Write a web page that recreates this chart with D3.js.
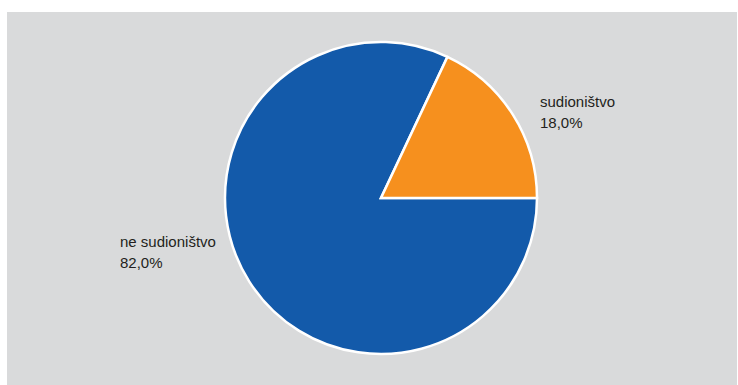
<!DOCTYPE html>
<html><head><meta charset="utf-8">
<script src="https://cdn.jsdelivr.net/npm/d3@7"></script>
<style>html,body{margin:0;padding:0;background:#fff;}</style>
</head><body>
<svg id="c" width="738" height="385"></svg>
<script>
const categories = ["ne sudioništvo", "sudioništvo"];
const values = [82.0, 18.0];
const valueLabels = ["82,0%", "18,0%"];
const colors = ["#135aaa", "#f6901e"];

const svg = d3.select("#c");
svg.append("rect").attr("x", 7).attr("y", 12).attr("width", 730).attr("height", 373).attr("fill", "#d9dadb");

const cx = 381, cy = 198, r = 156;
const data = categories.map((c, i) => ({cat: c, value: values[i], label: valueLabels[i], color: colors[i]}));
const pie = d3.pie().sort(null).value(d => d.value).startAngle(Math.PI / 2).endAngle(Math.PI / 2 + 2 * Math.PI);
const arc = d3.arc().innerRadius(0).outerRadius(r);
const g = svg.append("g").attr("transform", `translate(${cx},${cy})`);
g.selectAll("path").data(pie(data)).join("path")
  .attr("d", arc).attr("fill", d => d.data.color)
  .attr("stroke", "#fff").attr("stroke-width", 2.5).attr("stroke-linejoin", "miter");

const labelPos = [[120, 247], [540, 107]];
data.forEach((d, i) => {
  const t = svg.append("text").attr("x", labelPos[i][0]).attr("y", labelPos[i][1])
    .attr("font-family", "Liberation Sans, Arial, sans-serif").attr("font-size", 15).attr("fill", "#231f20");
  t.append("tspan").attr("x", labelPos[i][0]).text(d.cat);
  t.append("tspan").attr("x", labelPos[i][0]).attr("dy", 21).text(d.label);
});
</script>
</body></html>
